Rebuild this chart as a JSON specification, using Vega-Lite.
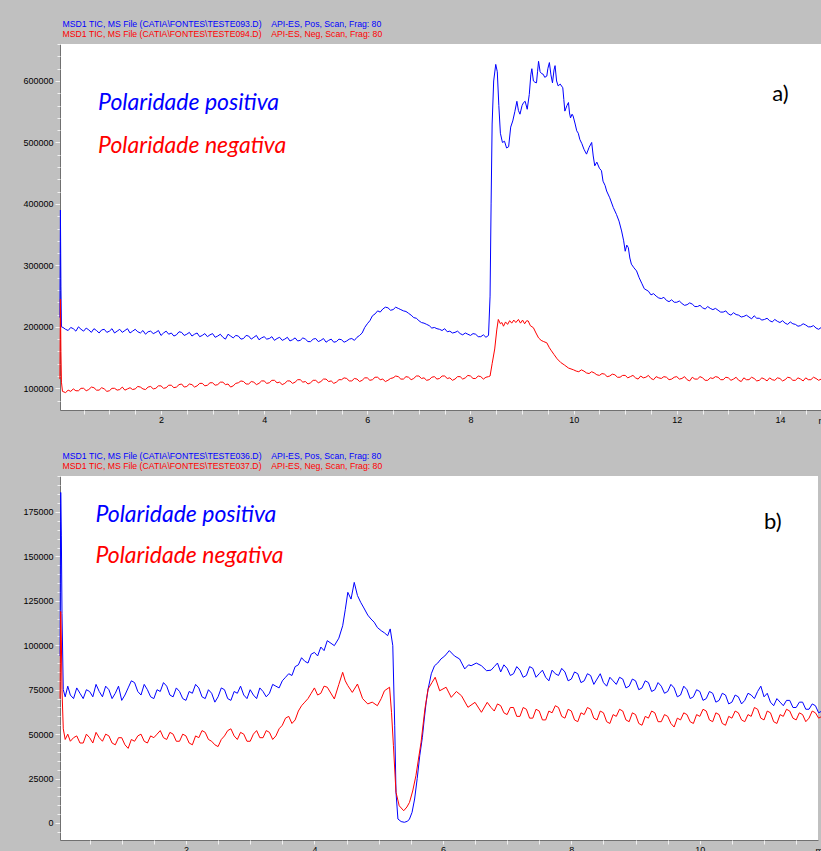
{
"$schema": "https://vega.github.io/schema/vega-lite/v6.json",
"background": "#c0c0c0",
"padding": {"left": 22, "top": 19, "right": 0, "bottom": 0},
"autosize": {"type": "pad"},
"spacing": 26,
"config": {
  "view": {"fill": "#ffffff", "stroke": null},
  "axis": {"labelFont": "Liberation Sans", "labelFontSize": 9, "labelColor": "#000000", "domainColor": "#707070", "tickColor": "#f2f2f2", "tickSize": 4, "labelPadding": 2, "grid": false, "titleFont": "Liberation Sans", "titleFontSize": 9, "titleFontWeight": "normal", "titleColor": "#000000"},
  "title": {"anchor": "start", "frame": "group", "font": "Liberation Sans", "fontSize": 8.7, "fontWeight": "normal", "color": "#0000ff", "subtitleFont": "Liberation Sans", "subtitleFontSize": 8.7, "subtitleColor": "#ff0000", "subtitlePadding": 2, "offset": 4.5, "dx": 2.5},
  "line": {"strokeWidth": 1, "clip": true}
},
"datasets": {
"a_pos": [{"x":0.04,"y":215000},{"x":0.05,"y":390000},{"x":0.06,"y":265000},{"x":0.07,"y":200000},{"x":0.1,"y":199000},{"x":0.15,"y":196000},{"x":0.2,"y":194000},{"x":0.25,"y":199000},{"x":0.3,"y":197000},{"x":0.35,"y":193000},{"x":0.4,"y":200000},{"x":0.45,"y":196000},{"x":0.5,"y":193000},{"x":0.55,"y":198000},{"x":0.6,"y":195000},{"x":0.65,"y":191000},{"x":0.7,"y":197000},{"x":0.75,"y":194000},{"x":0.8,"y":190000},{"x":0.85,"y":195000},{"x":0.9,"y":196000},{"x":0.95,"y":191000},{"x":1.0,"y":193000},{"x":1.05,"y":197000},{"x":1.1,"y":190000},{"x":1.15,"y":193000},{"x":1.2,"y":196000},{"x":1.25,"y":191000},{"x":1.3,"y":194000},{"x":1.35,"y":197000},{"x":1.4,"y":190000},{"x":1.45,"y":193000},{"x":1.5,"y":196000},{"x":1.55,"y":192000},{"x":1.6,"y":190000},{"x":1.65,"y":194000},{"x":1.7,"y":188000},{"x":1.75,"y":192000},{"x":1.8,"y":193000},{"x":1.85,"y":189000},{"x":1.9,"y":191000},{"x":1.95,"y":194000},{"x":2.0,"y":186000},{"x":2.05,"y":190000},{"x":2.1,"y":193000},{"x":2.15,"y":188000},{"x":2.2,"y":190000},{"x":2.25,"y":185000},{"x":2.3,"y":187000},{"x":2.35,"y":192000},{"x":2.4,"y":191000},{"x":2.45,"y":186000},{"x":2.5,"y":188000},{"x":2.55,"y":191000},{"x":2.6,"y":185000},{"x":2.65,"y":188000},{"x":2.7,"y":190000},{"x":2.75,"y":184000},{"x":2.8,"y":186000},{"x":2.85,"y":189000},{"x":2.9,"y":184000},{"x":2.95,"y":187000},{"x":3.0,"y":189000},{"x":3.05,"y":183000},{"x":3.1,"y":185000},{"x":3.15,"y":188000},{"x":3.2,"y":183000},{"x":3.25,"y":180000},{"x":3.3,"y":188000},{"x":3.35,"y":185000},{"x":3.4,"y":182000},{"x":3.45,"y":186000},{"x":3.5,"y":185000},{"x":3.55,"y":180000},{"x":3.6,"y":181000},{"x":3.65,"y":186000},{"x":3.7,"y":185000},{"x":3.75,"y":180000},{"x":3.8,"y":183000},{"x":3.85,"y":186000},{"x":3.9,"y":179000},{"x":3.95,"y":182000},{"x":4.0,"y":184000},{"x":4.05,"y":180000},{"x":4.1,"y":181000},{"x":4.15,"y":184000},{"x":4.2,"y":178000},{"x":4.25,"y":181000},{"x":4.3,"y":183000},{"x":4.35,"y":178000},{"x":4.4,"y":180000},{"x":4.45,"y":183000},{"x":4.5,"y":177000},{"x":4.55,"y":179000},{"x":4.6,"y":182000},{"x":4.65,"y":177000},{"x":4.7,"y":178000},{"x":4.75,"y":182000},{"x":4.8,"y":180000},{"x":4.85,"y":176000},{"x":4.9,"y":176000},{"x":4.95,"y":180000},{"x":5.0,"y":181000},{"x":5.05,"y":176000},{"x":5.1,"y":178000},{"x":5.15,"y":181000},{"x":5.2,"y":175000},{"x":5.25,"y":178000},{"x":5.3,"y":180000},{"x":5.35,"y":175000},{"x":5.4,"y":176000},{"x":5.45,"y":180000},{"x":5.5,"y":179000},{"x":5.55,"y":175000},{"x":5.6,"y":177000},{"x":5.65,"y":180000},{"x":5.7,"y":181000},{"x":5.75,"y":178000},{"x":5.8,"y":183000},{"x":5.85,"y":186000},{"x":5.9,"y":190000},{"x":5.95,"y":199000},{"x":6.0,"y":205000},{"x":6.05,"y":210000},{"x":6.1,"y":218000},{"x":6.15,"y":221000},{"x":6.2,"y":226000},{"x":6.25,"y":224000},{"x":6.3,"y":229000},{"x":6.35,"y":232000},{"x":6.4,"y":231000},{"x":6.45,"y":227000},{"x":6.5,"y":228000},{"x":6.55,"y":232000},{"x":6.6,"y":230000},{"x":6.65,"y":228000},{"x":6.7,"y":226000},{"x":6.75,"y":225000},{"x":6.8,"y":222000},{"x":6.85,"y":219000},{"x":6.9,"y":215000},{"x":6.95,"y":214000},{"x":7.0,"y":210000},{"x":7.05,"y":207000},{"x":7.1,"y":206000},{"x":7.15,"y":204000},{"x":7.2,"y":202000},{"x":7.25,"y":198000},{"x":7.3,"y":199000},{"x":7.35,"y":197000},{"x":7.4,"y":196000},{"x":7.45,"y":194000},{"x":7.5,"y":197000},{"x":7.55,"y":192000},{"x":7.6,"y":193000},{"x":7.65,"y":190000},{"x":7.7,"y":191000},{"x":7.75,"y":193000},{"x":7.8,"y":189000},{"x":7.85,"y":187000},{"x":7.9,"y":190000},{"x":7.95,"y":188000},{"x":8.0,"y":186000},{"x":8.05,"y":189000},{"x":8.1,"y":188000},{"x":8.15,"y":184000},{"x":8.2,"y":184000},{"x":8.25,"y":187000},{"x":8.3,"y":183000},{"x":8.35,"y":186000},{"x":8.38,"y":250000},{"x":8.40,"y":400000},{"x":8.42,"y":530000},{"x":8.45,"y":600000},{"x":8.49,"y":627000},{"x":8.52,"y":615000},{"x":8.55,"y":560000},{"x":8.58,"y":515000},{"x":8.62,"y":500000},{"x":8.66,"y":502000},{"x":8.70,"y":491000},{"x":8.74,"y":493000},{"x":8.78,"y":525000},{"x":8.82,"y":535000},{"x":8.86,"y":550000},{"x":8.90,"y":567000},{"x":8.93,"y":552000},{"x":8.96,"y":546000},{"x":9.00,"y":560000},{"x":9.03,"y":565000},{"x":9.06,"y":567000},{"x":9.10,"y":554000},{"x":9.14,"y":578000},{"x":9.17,"y":610000},{"x":9.19,"y":620000},{"x":9.22,"y":600000},{"x":9.25,"y":598000},{"x":9.28,"y":597000},{"x":9.30,"y":615000},{"x":9.32,"y":632000},{"x":9.35,"y":615000},{"x":9.38,"y":612000},{"x":9.41,"y":611000},{"x":9.44,"y":606000},{"x":9.48,"y":608000},{"x":9.50,"y":620000},{"x":9.53,"y":630000},{"x":9.56,"y":610000},{"x":9.59,"y":597000},{"x":9.62,"y":618000},{"x":9.64,"y":625000},{"x":9.67,"y":600000},{"x":9.70,"y":592000},{"x":9.74,"y":595000},{"x":9.79,"y":589000},{"x":9.81,"y":570000},{"x":9.83,"y":551000},{"x":9.87,"y":560000},{"x":9.90,"y":565000},{"x":9.92,"y":548000},{"x":9.94,"y":540000},{"x":9.97,"y":546000},{"x":9.99,"y":543000},{"x":10.03,"y":530000},{"x":10.06,"y":519000},{"x":10.09,"y":515000},{"x":10.12,"y":505000},{"x":10.16,"y":498000},{"x":10.20,"y":489000},{"x":10.25,"y":481000},{"x":10.30,"y":492000},{"x":10.35,"y":500000},{"x":10.38,"y":478000},{"x":10.41,"y":462000},{"x":10.45,"y":468000},{"x":10.50,"y":458000},{"x":10.54,"y":454000},{"x":10.57,"y":437000},{"x":10.61,"y":430000},{"x":10.64,"y":421000},{"x":10.70,"y":410000},{"x":10.77,"y":394000},{"x":10.83,"y":383000},{"x":10.88,"y":372000},{"x":10.93,"y":356000},{"x":10.97,"y":340000},{"x":11.00,"y":323000},{"x":11.03,"y":333000},{"x":11.06,"y":329000},{"x":11.09,"y":312000},{"x":11.12,"y":302000},{"x":11.17,"y":296000},{"x":11.22,"y":291000},{"x":11.27,"y":280000},{"x":11.32,"y":271000},{"x":11.37,"y":262000},{"x":11.45,"y":258000},{"x":11.5,"y":252000},{"x":11.55,"y":254000},{"x":11.6,"y":250000},{"x":11.65,"y":247000},{"x":11.7,"y":246000},{"x":11.75,"y":248000},{"x":11.8,"y":243000},{"x":11.85,"y":241000},{"x":11.9,"y":244000},{"x":11.95,"y":240000},{"x":12.0,"y":240000},{"x":12.05,"y":242000},{"x":12.1,"y":238000},{"x":12.15,"y":235000},{"x":12.2,"y":236000},{"x":12.25,"y":239000},{"x":12.3,"y":237000},{"x":12.35,"y":233000},{"x":12.4,"y":233000},{"x":12.45,"y":235000},{"x":12.5,"y":231000},{"x":12.55,"y":229000},{"x":12.6,"y":233000},{"x":12.65,"y":230000},{"x":12.7,"y":228000},{"x":12.75,"y":230000},{"x":12.8,"y":227000},{"x":12.85,"y":224000},{"x":12.9,"y":224000},{"x":12.95,"y":226000},{"x":13.0,"y":221000},{"x":13.05,"y":219000},{"x":13.1,"y":223000},{"x":13.15,"y":220000},{"x":13.2,"y":219000},{"x":13.25,"y":216000},{"x":13.3,"y":217000},{"x":13.35,"y":219000},{"x":13.4,"y":216000},{"x":13.45,"y":213000},{"x":13.5,"y":218000},{"x":13.55,"y":214000},{"x":13.6,"y":214000},{"x":13.65,"y":211000},{"x":13.7,"y":212000},{"x":13.75,"y":214000},{"x":13.8,"y":210000},{"x":13.85,"y":208000},{"x":13.9,"y":212000},{"x":13.95,"y":209000},{"x":14.0,"y":207000},{"x":14.05,"y":210000},{"x":14.1,"y":206000},{"x":14.15,"y":204000},{"x":14.2,"y":208000},{"x":14.25,"y":205000},{"x":14.3,"y":204000},{"x":14.35,"y":201000},{"x":14.4,"y":202000},{"x":14.45,"y":205000},{"x":14.5,"y":203000},{"x":14.55,"y":200000},{"x":14.6,"y":200000},{"x":14.65,"y":202000},{"x":14.7,"y":198000},{"x":14.75,"y":196000},{"x":14.8,"y":199000}],
"a_neg": [{"x":0.04,"y":115000},{"x":0.05,"y":245000},{"x":0.06,"y":160000},{"x":0.07,"y":110000},{"x":0.09,"y":95000},{"x":0.15,"y":93000},{"x":0.2,"y":97000},{"x":0.25,"y":95000},{"x":0.3,"y":99000},{"x":0.35,"y":96000},{"x":0.4,"y":96000},{"x":0.45,"y":100000},{"x":0.5,"y":100000},{"x":0.55,"y":96000},{"x":0.6,"y":98000},{"x":0.65,"y":102000},{"x":0.7,"y":101000},{"x":0.75,"y":97000},{"x":0.8,"y":97000},{"x":0.85,"y":101000},{"x":0.9,"y":99000},{"x":0.95,"y":95000},{"x":1.0,"y":96000},{"x":1.05,"y":100000},{"x":1.1,"y":100000},{"x":1.15,"y":97000},{"x":1.2,"y":98000},{"x":1.25,"y":102000},{"x":1.3,"y":97000},{"x":1.35,"y":99000},{"x":1.4,"y":101000},{"x":1.45,"y":98000},{"x":1.5,"y":99000},{"x":1.55,"y":103000},{"x":1.6,"y":102000},{"x":1.65,"y":99000},{"x":1.7,"y":98000},{"x":1.75,"y":102000},{"x":1.8,"y":103000},{"x":1.85,"y":99000},{"x":1.9,"y":100000},{"x":1.95,"y":104000},{"x":2.0,"y":104000},{"x":2.05,"y":100000},{"x":2.1,"y":101000},{"x":2.15,"y":105000},{"x":2.2,"y":105000},{"x":2.25,"y":101000},{"x":2.3,"y":102000},{"x":2.35,"y":106000},{"x":2.4,"y":107000},{"x":2.45,"y":102000},{"x":2.5,"y":103000},{"x":2.55,"y":107000},{"x":2.6,"y":106000},{"x":2.65,"y":102000},{"x":2.7,"y":104000},{"x":2.75,"y":108000},{"x":2.8,"y":108000},{"x":2.85,"y":104000},{"x":2.9,"y":105000},{"x":2.95,"y":109000},{"x":3.0,"y":109000},{"x":3.05,"y":105000},{"x":3.1,"y":106000},{"x":3.15,"y":110000},{"x":3.2,"y":110000},{"x":3.25,"y":106000},{"x":3.3,"y":107000},{"x":3.35,"y":102000},{"x":3.4,"y":104000},{"x":3.45,"y":108000},{"x":3.5,"y":109000},{"x":3.55,"y":112000},{"x":3.6,"y":111000},{"x":3.65,"y":107000},{"x":3.7,"y":107000},{"x":3.75,"y":111000},{"x":3.8,"y":110000},{"x":3.85,"y":106000},{"x":3.9,"y":108000},{"x":3.95,"y":112000},{"x":4.0,"y":112000},{"x":4.05,"y":108000},{"x":4.1,"y":109000},{"x":4.15,"y":113000},{"x":4.2,"y":113000},{"x":4.25,"y":109000},{"x":4.3,"y":110000},{"x":4.35,"y":106000},{"x":4.4,"y":108000},{"x":4.45,"y":112000},{"x":4.5,"y":112000},{"x":4.55,"y":108000},{"x":4.6,"y":110000},{"x":4.65,"y":114000},{"x":4.7,"y":114000},{"x":4.75,"y":110000},{"x":4.8,"y":111000},{"x":4.85,"y":107000},{"x":4.9,"y":109000},{"x":4.95,"y":113000},{"x":5.0,"y":113000},{"x":5.05,"y":109000},{"x":5.1,"y":111000},{"x":5.15,"y":115000},{"x":5.2,"y":115000},{"x":5.25,"y":111000},{"x":5.3,"y":112000},{"x":5.35,"y":108000},{"x":5.4,"y":110000},{"x":5.45,"y":114000},{"x":5.5,"y":114000},{"x":5.55,"y":117000},{"x":5.6,"y":116000},{"x":5.65,"y":112000},{"x":5.7,"y":112000},{"x":5.75,"y":116000},{"x":5.8,"y":115000},{"x":5.85,"y":111000},{"x":5.9,"y":113000},{"x":5.95,"y":117000},{"x":6.0,"y":117000},{"x":6.05,"y":113000},{"x":6.1,"y":114000},{"x":6.15,"y":118000},{"x":6.2,"y":118000},{"x":6.25,"y":114000},{"x":6.3,"y":115000},{"x":6.35,"y":111000},{"x":6.4,"y":113000},{"x":6.45,"y":116000},{"x":6.5,"y":117000},{"x":6.55,"y":120000},{"x":6.6,"y":119000},{"x":6.65,"y":115000},{"x":6.7,"y":115000},{"x":6.75,"y":119000},{"x":6.8,"y":118000},{"x":6.85,"y":114000},{"x":6.9,"y":116000},{"x":6.95,"y":120000},{"x":7.0,"y":120000},{"x":7.05,"y":116000},{"x":7.1,"y":117000},{"x":7.15,"y":113000},{"x":7.2,"y":114000},{"x":7.25,"y":118000},{"x":7.3,"y":119000},{"x":7.35,"y":115000},{"x":7.4,"y":116000},{"x":7.45,"y":120000},{"x":7.5,"y":120000},{"x":7.55,"y":116000},{"x":7.6,"y":117000},{"x":7.65,"y":113000},{"x":7.7,"y":115000},{"x":7.75,"y":119000},{"x":7.8,"y":119000},{"x":7.85,"y":115000},{"x":7.9,"y":117000},{"x":7.95,"y":121000},{"x":8.0,"y":120000},{"x":8.05,"y":116000},{"x":8.1,"y":116000},{"x":8.15,"y":120000},{"x":8.2,"y":119000},{"x":8.25,"y":115000},{"x":8.3,"y":118000},{"x":8.35,"y":119000},{"x":8.38,"y":120000},{"x":8.42,"y":140000},{"x":8.47,"y":164000},{"x":8.51,"y":195000},{"x":8.54,"y":212000},{"x":8.58,"y":205000},{"x":8.61,"y":207000},{"x":8.64,"y":201000},{"x":8.68,"y":208000},{"x":8.72,"y":204000},{"x":8.76,"y":210000},{"x":8.80,"y":206000},{"x":8.84,"y":211000},{"x":8.88,"y":207000},{"x":8.93,"y":212000},{"x":8.97,"y":206000},{"x":9.01,"y":211000},{"x":9.05,"y":205000},{"x":9.09,"y":210000},{"x":9.12,"y":209500},{"x":9.16,"y":202000},{"x":9.22,"y":198600},{"x":9.27,"y":190000},{"x":9.32,"y":182000},{"x":9.37,"y":178000},{"x":9.42,"y":176000},{"x":9.48,"y":174000},{"x":9.53,"y":166000},{"x":9.57,"y":161000},{"x":9.62,"y":155000},{"x":9.68,"y":148000},{"x":9.75,"y":142000},{"x":9.82,"y":138000},{"x":9.9,"y":133000},{"x":10.0,"y":130000},{"x":10.05,"y":128000},{"x":10.1,"y":127000},{"x":10.15,"y":130000},{"x":10.2,"y":128000},{"x":10.25,"y":125000},{"x":10.3,"y":124000},{"x":10.35,"y":127000},{"x":10.4,"y":125000},{"x":10.45,"y":122000},{"x":10.5,"y":121000},{"x":10.55,"y":124000},{"x":10.6,"y":123000},{"x":10.65,"y":119000},{"x":10.7,"y":120000},{"x":10.75,"y":123000},{"x":10.8,"y":122000},{"x":10.85,"y":118000},{"x":10.9,"y":118000},{"x":10.95,"y":121000},{"x":11.0,"y":121000},{"x":11.05,"y":117000},{"x":11.1,"y":119000},{"x":11.15,"y":121000},{"x":11.2,"y":117000},{"x":11.25,"y":115000},{"x":11.3,"y":120000},{"x":11.35,"y":117000},{"x":11.4,"y":118000},{"x":11.45,"y":121000},{"x":11.5,"y":116000},{"x":11.55,"y":114000},{"x":11.6,"y":119000},{"x":11.65,"y":117000},{"x":11.7,"y":116000},{"x":11.75,"y":119000},{"x":11.8,"y":118000},{"x":11.85,"y":114000},{"x":11.9,"y":115000},{"x":11.95,"y":118000},{"x":12.0,"y":119000},{"x":12.05,"y":115000},{"x":12.1,"y":116000},{"x":12.15,"y":119000},{"x":12.2,"y":114000},{"x":12.25,"y":112000},{"x":12.3,"y":118000},{"x":12.35,"y":115000},{"x":12.4,"y":115000},{"x":12.45,"y":119000},{"x":12.5,"y":117000},{"x":12.55,"y":113000},{"x":12.6,"y":113000},{"x":12.65,"y":117000},{"x":12.7,"y":116000},{"x":12.75,"y":119000},{"x":12.8,"y":118000},{"x":12.85,"y":114000},{"x":12.9,"y":114000},{"x":12.95,"y":118000},{"x":13.0,"y":117000},{"x":13.05,"y":113000},{"x":13.1,"y":115000},{"x":13.15,"y":118000},{"x":13.2,"y":113000},{"x":13.25,"y":111000},{"x":13.3,"y":117000},{"x":13.35,"y":114000},{"x":13.4,"y":114000},{"x":13.45,"y":118000},{"x":13.5,"y":116000},{"x":13.55,"y":112000},{"x":13.6,"y":113000},{"x":13.65,"y":117000},{"x":13.7,"y":115000},{"x":13.75,"y":112000},{"x":13.8,"y":117000},{"x":13.85,"y":114000},{"x":13.9,"y":113000},{"x":13.95,"y":117000},{"x":14.0,"y":116000},{"x":14.05,"y":112000},{"x":14.1,"y":114000},{"x":14.15,"y":118000},{"x":14.2,"y":117000},{"x":14.25,"y":113000},{"x":14.3,"y":113000},{"x":14.35,"y":117000},{"x":14.4,"y":115000},{"x":14.45,"y":112000},{"x":14.5,"y":117000},{"x":14.55,"y":114000},{"x":14.6,"y":114000},{"x":14.65,"y":118000},{"x":14.7,"y":116000},{"x":14.75,"y":113000},{"x":14.8,"y":115000}],
"b_pos": [{"x":0.04,"y":94000},{"x":0.05,"y":186000},{"x":0.06,"y":162000},{"x":0.07,"y":118000},{"x":0.09,"y":75000},{"x":0.12,"y":71000},{"x":0.16,"y":77000},{"x":0.2,"y":72000},{"x":0.25,"y":70000},{"x":0.3,"y":76000},{"x":0.35,"y":73000},{"x":0.4,"y":70000},{"x":0.45,"y":75000},{"x":0.5,"y":74000},{"x":0.55,"y":71000},{"x":0.6,"y":78000},{"x":0.65,"y":74000},{"x":0.7,"y":71000},{"x":0.75,"y":77000},{"x":0.8,"y":75000},{"x":0.85,"y":70000},{"x":0.9,"y":73000},{"x":0.95,"y":77000},{"x":1.0,"y":69000},{"x":1.05,"y":72000},{"x":1.1,"y":76000},{"x":1.15,"y":80000},{"x":1.2,"y":79000},{"x":1.25,"y":74000},{"x":1.3,"y":72000},{"x":1.35,"y":78000},{"x":1.4,"y":75000},{"x":1.45,"y":71000},{"x":1.5,"y":70000},{"x":1.55,"y":75000},{"x":1.6,"y":74000},{"x":1.65,"y":79000},{"x":1.7,"y":77000},{"x":1.75,"y":72000},{"x":1.8,"y":71000},{"x":1.85,"y":76000},{"x":1.9,"y":74000},{"x":1.95,"y":70000},{"x":2.0,"y":69000},{"x":2.05,"y":74000},{"x":2.1,"y":73000},{"x":2.15,"y":78000},{"x":2.2,"y":76000},{"x":2.25,"y":71000},{"x":2.3,"y":70000},{"x":2.35,"y":75000},{"x":2.4,"y":73000},{"x":2.45,"y":68000},{"x":2.5,"y":71000},{"x":2.55,"y":76000},{"x":2.6,"y":75000},{"x":2.65,"y":70000},{"x":2.7,"y":69000},{"x":2.75,"y":74000},{"x":2.8,"y":73000},{"x":2.85,"y":77000},{"x":2.9,"y":72000},{"x":2.95,"y":70000},{"x":3.0,"y":75000},{"x":3.05,"y":72000},{"x":3.1,"y":70000},{"x":3.15,"y":76000},{"x":3.2,"y":74000},{"x":3.25,"y":71000},{"x":3.3,"y":73000},{"x":3.35,"y":78000},{"x":3.4,"y":77000},{"x":3.45,"y":76000},{"x":3.5,"y":80000},{"x":3.55,"y":82000},{"x":3.6,"y":84000},{"x":3.65,"y":83000},{"x":3.7,"y":88000},{"x":3.75,"y":89000},{"x":3.8,"y":93000},{"x":3.85,"y":91000},{"x":3.9,"y":90000},{"x":3.95,"y":95000},{"x":4.0,"y":96000},{"x":4.05,"y":94000},{"x":4.1,"y":99000},{"x":4.15,"y":97000},{"x":4.2,"y":102600},{"x":4.31,"y":99800},{"x":4.38,"y":104000},{"x":4.44,"y":111000},{"x":4.48,"y":120000},{"x":4.52,"y":129800},{"x":4.57,"y":126000},{"x":4.62,"y":135400},{"x":4.67,"y":128000},{"x":4.72,"y":124200},{"x":4.77,"y":121000},{"x":4.83,"y":117000},{"x":4.88,"y":114800},{"x":4.93,"y":113000},{"x":4.98,"y":110000},{"x":5.04,"y":108200},{"x":5.09,"y":107000},{"x":5.14,"y":105400},{"x":5.18,"y":109200},{"x":5.22,"y":99800},{"x":5.25,"y":54700},{"x":5.27,"y":17300},{"x":5.30,"y":2250},{"x":5.35,"y":800},{"x":5.40,"y":400},{"x":5.45,"y":1000},{"x":5.48,"y":2250},{"x":5.52,"y":6000},{"x":5.56,"y":13500},{"x":5.60,"y":25000},{"x":5.64,"y":37900},{"x":5.68,"y":48000},{"x":5.71,"y":58500},{"x":5.74,"y":68000},{"x":5.77,"y":75400},{"x":5.82,"y":84000},{"x":5.87,"y":88500},{"x":5.92,"y":90000},{"x":5.97,"y":92300},{"x":6.03,"y":94000},{"x":6.10,"y":97000},{"x":6.18,"y":94000},{"x":6.26,"y":92300},{"x":6.34,"y":86700},{"x":6.40,"y":89000},{"x":6.44,"y":88500},{"x":6.52,"y":90000},{"x":6.60,"y":88500},{"x":6.68,"y":85700},{"x":6.75,"y":86000},{"x":6.8,"y":88000},{"x":6.85,"y":90000},{"x":6.9,"y":85000},{"x":6.95,"y":89000},{"x":7.0,"y":87000},{"x":7.05,"y":83000},{"x":7.1,"y":84000},{"x":7.15,"y":88000},{"x":7.2,"y":86000},{"x":7.25,"y":82000},{"x":7.3,"y":83000},{"x":7.35,"y":88000},{"x":7.4,"y":87000},{"x":7.45,"y":82000},{"x":7.5,"y":84000},{"x":7.55,"y":86000},{"x":7.6,"y":82000},{"x":7.65,"y":80000},{"x":7.7,"y":86000},{"x":7.75,"y":84000},{"x":7.8,"y":83000},{"x":7.85,"y":87000},{"x":7.9,"y":85000},{"x":7.95,"y":80000},{"x":8.0,"y":81000},{"x":8.05,"y":85000},{"x":8.1,"y":84000},{"x":8.15,"y":79000},{"x":8.2,"y":80000},{"x":8.25,"y":84000},{"x":8.3,"y":83000},{"x":8.35,"y":78000},{"x":8.4,"y":81000},{"x":8.45,"y":84000},{"x":8.5,"y":79000},{"x":8.55,"y":77000},{"x":8.6,"y":82000},{"x":8.65,"y":80000},{"x":8.7,"y":78000},{"x":8.75,"y":82000},{"x":8.8,"y":81000},{"x":8.85,"y":76000},{"x":8.9,"y":77000},{"x":8.95,"y":81000},{"x":9.0,"y":80000},{"x":9.05,"y":75000},{"x":9.1,"y":76000},{"x":9.15,"y":80000},{"x":9.2,"y":79000},{"x":9.25,"y":74000},{"x":9.3,"y":75000},{"x":9.35,"y":79000},{"x":9.4,"y":77000},{"x":9.45,"y":73000},{"x":9.5,"y":74000},{"x":9.55,"y":78000},{"x":9.6,"y":76000},{"x":9.65,"y":71000},{"x":9.7,"y":72000},{"x":9.75,"y":77000},{"x":9.8,"y":75000},{"x":9.85,"y":70000},{"x":9.9,"y":71000},{"x":9.95,"y":75000},{"x":10.0,"y":74000},{"x":10.05,"y":69000},{"x":10.1,"y":70000},{"x":10.15,"y":74000},{"x":10.2,"y":73000},{"x":10.25,"y":68000},{"x":10.3,"y":69000},{"x":10.35,"y":73000},{"x":10.4,"y":72000},{"x":10.45,"y":67000},{"x":10.5,"y":68000},{"x":10.55,"y":72000},{"x":10.6,"y":71000},{"x":10.65,"y":67000},{"x":10.7,"y":69000},{"x":10.75,"y":73000},{"x":10.8,"y":72000},{"x":10.85,"y":70000},{"x":10.9,"y":74000},{"x":10.95,"y":77000},{"x":11.0,"y":71000},{"x":11.05,"y":73000},{"x":11.1,"y":68000},{"x":11.15,"y":66000},{"x":11.2,"y":70000},{"x":11.25,"y":68000},{"x":11.3,"y":66000},{"x":11.35,"y":69000},{"x":11.4,"y":69000},{"x":11.45,"y":65000},{"x":11.5,"y":65000},{"x":11.55,"y":68000},{"x":11.6,"y":68000},{"x":11.65,"y":64000},{"x":11.7,"y":64000},{"x":11.75,"y":67000},{"x":11.8,"y":66000},{"x":11.85,"y":62000},{"x":11.9,"y":63000}],
"b_neg": [{"x":0.04,"y":70000},{"x":0.05,"y":119000},{"x":0.06,"y":103000},{"x":0.07,"y":75000},{"x":0.09,"y":53000},{"x":0.12,"y":47000},{"x":0.16,"y":50000},{"x":0.2,"y":46000},{"x":0.25,"y":48000},{"x":0.3,"y":49000},{"x":0.35,"y":45000},{"x":0.4,"y":45000},{"x":0.45,"y":50000},{"x":0.5,"y":48000},{"x":0.55,"y":45000},{"x":0.6,"y":51000},{"x":0.65,"y":48000},{"x":0.7,"y":46000},{"x":0.75,"y":50000},{"x":0.8,"y":49000},{"x":0.85,"y":45000},{"x":0.9,"y":44000},{"x":0.95,"y":48000},{"x":1.0,"y":48000},{"x":1.05,"y":44000},{"x":1.1,"y":42000},{"x":1.15,"y":47000},{"x":1.2,"y":46000},{"x":1.25,"y":49000},{"x":1.3,"y":50000},{"x":1.35,"y":46000},{"x":1.4,"y":45000},{"x":1.45,"y":49000},{"x":1.5,"y":48000},{"x":1.55,"y":50000},{"x":1.6,"y":52000},{"x":1.65,"y":48000},{"x":1.7,"y":47000},{"x":1.75,"y":51000},{"x":1.8,"y":50000},{"x":1.85,"y":46000},{"x":1.9,"y":46000},{"x":1.95,"y":50000},{"x":2.0,"y":49000},{"x":2.05,"y":45000},{"x":2.1,"y":44000},{"x":2.15,"y":49000},{"x":2.2,"y":48000},{"x":2.25,"y":52000},{"x":2.3,"y":51000},{"x":2.35,"y":47000},{"x":2.4,"y":46000},{"x":2.45,"y":44000},{"x":2.5,"y":43000},{"x":2.55,"y":47000},{"x":2.6,"y":49000},{"x":2.65,"y":52000},{"x":2.7,"y":53000},{"x":2.75,"y":49000},{"x":2.8,"y":47000},{"x":2.85,"y":51000},{"x":2.9,"y":50000},{"x":2.95,"y":46000},{"x":3.0,"y":46000},{"x":3.05,"y":50000},{"x":3.1,"y":52000},{"x":3.15,"y":48000},{"x":3.2,"y":48000},{"x":3.25,"y":52000},{"x":3.3,"y":51000},{"x":3.35,"y":47000},{"x":3.4,"y":49000},{"x":3.45,"y":53000},{"x":3.5,"y":55000},{"x":3.55,"y":59000},{"x":3.6,"y":60000},{"x":3.65,"y":56000},{"x":3.7,"y":58000},{"x":3.75,"y":63000},{"x":3.8,"y":66000},{"x":3.85,"y":68000},{"x":3.9,"y":70000},{"x":3.95,"y":73000},{"x":4.0,"y":76000},{"x":4.05,"y":72000},{"x":4.1,"y":73000},{"x":4.15,"y":77000},{"x":4.2,"y":76400},{"x":4.31,"y":69800},{"x":4.38,"y":78000},{"x":4.44,"y":84800},{"x":4.48,"y":80000},{"x":4.52,"y":77300},{"x":4.59,"y":73500},{"x":4.67,"y":78200},{"x":4.75,"y":70000},{"x":4.83,"y":67000},{"x":4.90,"y":68000},{"x":4.98,"y":66000},{"x":5.04,"y":70000},{"x":5.09,"y":74400},{"x":5.17,"y":76400},{"x":5.20,"y":62300},{"x":5.23,"y":43500},{"x":5.27,"y":17300},{"x":5.32,"y":9700},{"x":5.39,"y":6900},{"x":5.44,"y":9000},{"x":5.48,"y":11600},{"x":5.53,"y":18000},{"x":5.58,"y":26600},{"x":5.62,"y":36000},{"x":5.66,"y":45400},{"x":5.72,"y":64100},{"x":5.77,"y":75400},{"x":5.83,"y":79000},{"x":5.88,"y":82000},{"x":5.95,"y":74400},{"x":6.05,"y":76400},{"x":6.13,"y":70700},{"x":6.21,"y":74000},{"x":6.29,"y":71600},{"x":6.39,"y":65100},{"x":6.50,"y":67900},{"x":6.60,"y":62300},{"x":6.69,"y":67900},{"x":6.75,"y":65000},{"x":6.8,"y":63000},{"x":6.85,"y":67000},{"x":6.9,"y":66000},{"x":6.95,"y":62000},{"x":7.0,"y":61000},{"x":7.05,"y":65000},{"x":7.1,"y":65000},{"x":7.15,"y":60000},{"x":7.2,"y":60000},{"x":7.25,"y":65000},{"x":7.3,"y":64000},{"x":7.35,"y":59000},{"x":7.4,"y":59000},{"x":7.45,"y":64000},{"x":7.5,"y":63000},{"x":7.55,"y":58000},{"x":7.6,"y":58000},{"x":7.65,"y":63000},{"x":7.7,"y":62000},{"x":7.75,"y":66000},{"x":7.8,"y":65000},{"x":7.85,"y":60000},{"x":7.9,"y":59000},{"x":7.95,"y":64000},{"x":8.0,"y":63000},{"x":8.05,"y":58000},{"x":8.1,"y":57000},{"x":8.15,"y":62000},{"x":8.2,"y":61000},{"x":8.25,"y":65000},{"x":8.3,"y":64000},{"x":8.35,"y":59000},{"x":8.4,"y":58000},{"x":8.45,"y":63000},{"x":8.5,"y":62000},{"x":8.55,"y":57000},{"x":8.6,"y":56000},{"x":8.65,"y":61000},{"x":8.7,"y":60000},{"x":8.75,"y":64000},{"x":8.8,"y":63000},{"x":8.85,"y":58000},{"x":8.9,"y":57000},{"x":8.95,"y":62000},{"x":9.0,"y":61000},{"x":9.05,"y":56000},{"x":9.1,"y":55000},{"x":9.15,"y":60000},{"x":9.2,"y":59000},{"x":9.25,"y":63000},{"x":9.3,"y":62000},{"x":9.35,"y":57000},{"x":9.4,"y":57000},{"x":9.45,"y":61000},{"x":9.5,"y":60000},{"x":9.55,"y":56000},{"x":9.6,"y":54000},{"x":9.65,"y":59000},{"x":9.7,"y":58000},{"x":9.75,"y":62000},{"x":9.8,"y":61000},{"x":9.85,"y":57000},{"x":9.9,"y":56000},{"x":9.95,"y":61000},{"x":10.0,"y":60000},{"x":10.05,"y":64000},{"x":10.1,"y":63000},{"x":10.15,"y":58000},{"x":10.2,"y":57000},{"x":10.25,"y":62000},{"x":10.3,"y":61000},{"x":10.35,"y":56000},{"x":10.4,"y":55000},{"x":10.45,"y":60000},{"x":10.5,"y":59000},{"x":10.55,"y":63000},{"x":10.6,"y":62000},{"x":10.65,"y":58000},{"x":10.7,"y":57000},{"x":10.75,"y":61000},{"x":10.8,"y":60000},{"x":10.85,"y":65000},{"x":10.9,"y":64000},{"x":10.95,"y":59000},{"x":11.0,"y":58000},{"x":11.05,"y":63000},{"x":11.1,"y":62000},{"x":11.15,"y":57000},{"x":11.2,"y":56000},{"x":11.25,"y":61000},{"x":11.3,"y":60000},{"x":11.35,"y":64000},{"x":11.4,"y":63000},{"x":11.45,"y":59000},{"x":11.5,"y":58000},{"x":11.55,"y":62000},{"x":11.6,"y":61000},{"x":11.65,"y":57000},{"x":11.7,"y":59000},{"x":11.75,"y":63000},{"x":11.8,"y":62000},{"x":11.85,"y":59000},{"x":11.9,"y":60000}]
},
"vconcat": [
{
  "width": 761, "height": 366,
  "title": {"text": "MSD1 TIC, MS File (CATIA\\FONTES\\TESTE093.D)\u00a0\u00a0\u00a0\u00a0API-ES, Pos, Scan, Frag: 80", "subtitle": "MSD1 TIC, MS File (CATIA\\FONTES\\TESTE094.D)\u00a0\u00a0\u00a0\u00a0API-ES, Neg, Scan, Frag: 80"},
  "resolve": {"axis": {"x": "independent", "y": "independent"}},
  "layer": [
    {"data": {"name": "a_pos"}, "mark": {"type": "line", "color": "#0000ff"},
     "encoding": {
       "x": {"field": "x", "type": "quantitative", "scale": {"domain": [0.042, 14.796], "nice": false, "zero": false},
         "axis": {"orient": "bottom", "values": [2,4,6,8,10,12,14], "format": "d", "title": "min", "titleAngle": 0, "titleX": 758, "titleY": 10, "titleAlign": "left", "titleBaseline": "middle", "labelPadding": 1}},
       "y": {"field": "y", "type": "quantitative", "scale": {"domain": [64700, 660200], "nice": false, "zero": false},
         "axis": {"orient": "left", "values": [100000,200000,300000,400000,500000,600000], "format": "d", "title": null, "tickSize": 5}}}},
    {"data": {"name": "a_neg"}, "mark": {"type": "line", "color": "#ff0000"},
     "encoding": {
       "x": {"field": "x", "type": "quantitative", "scale": {"domain": [0.042, 14.796], "nice": false, "zero": false},
         "axis": {"orient": "bottom", "values": [0.5,1,1.5,2.5,3,3.5,4.5,5,5.5,6.5,7,7.5,8.5,9,9.5,10.5,11,11.5,12.5,13,13.5,14.5], "labels": false, "domain": false, "title": null}},
       "y": {"field": "y", "type": "quantitative", "scale": {"domain": [64700, 660200], "nice": false, "zero": false},
         "axis": {"orient": "left", "values": [80000,120000,140000,160000,180000,220000,240000,260000,280000,320000,340000,360000,380000,420000,440000,460000,480000,520000,540000,560000,580000,620000,640000,660000], "labels": false, "domain": false, "title": null, "tickSize": 3}}}},
    {"data": {"values": [{}]}, "mark": {"type": "text", "text": "Polaridade positiva", "font": "Lato", "fontStyle": "italic", "fontSize": 23, "color": "#0000ff", "align": "left", "baseline": "middle"}, "encoding": {"x": {"datum": 0.78, "type": "quantitative", "axis": null}, "y": {"datum": 564000, "type": "quantitative", "axis": null}}},
    {"data": {"values": [{}]}, "mark": {"type": "text", "text": "Polaridade negativa", "font": "Lato", "fontStyle": "italic", "fontSize": 23, "color": "#ff0000", "align": "left", "baseline": "middle"}, "encoding": {"x": {"datum": 0.78, "type": "quantitative", "axis": null}, "y": {"datum": 494000, "type": "quantitative", "axis": null}}},
    {"data": {"values": [{}]}, "mark": {"type": "text", "text": "a)", "font": "Lato", "fontSize": 22, "color": "#000000", "align": "left", "baseline": "middle"}, "encoding": {"x": {"datum": 13.85, "type": "quantitative", "axis": null}, "y": {"datum": 579000, "type": "quantitative", "axis": null}}}
  ]
},
{
  "width": 758, "height": 364,
  "title": {"text": "MSD1 TIC, MS File (CATIA\\FONTES\\TESTE036.D)\u00a0\u00a0\u00a0\u00a0API-ES, Pos, Scan, Frag: 80", "subtitle": "MSD1 TIC, MS File (CATIA\\FONTES\\TESTE037.D)\u00a0\u00a0\u00a0\u00a0API-ES, Neg, Scan, Frag: 80"},
  "resolve": {"axis": {"x": "independent", "y": "independent"}},
  "layer": [
    {"data": {"name": "b_pos"}, "mark": {"type": "line", "color": "#0000ff"},
     "encoding": {
       "x": {"field": "x", "type": "quantitative", "scale": {"domain": [0.039, 11.84], "nice": false, "zero": false},
         "axis": {"orient": "bottom", "values": [2,4,6,8,10], "format": "d", "title": "min", "titleAngle": 0, "titleX": 755, "titleY": 10, "titleAlign": "left", "titleBaseline": "middle", "labelPadding": 1}},
       "y": {"field": "y", "type": "quantitative", "scale": {"domain": [-9566, 195257], "nice": false, "zero": false},
         "axis": {"orient": "left", "values": [0,25000,50000,75000,100000,125000,150000,175000], "format": "d", "title": null, "tickSize": 5}}}},
    {"data": {"name": "b_neg"}, "mark": {"type": "line", "color": "#ff0000"},
     "encoding": {
       "x": {"field": "x", "type": "quantitative", "scale": {"domain": [0.039, 11.84], "nice": false, "zero": false},
         "axis": {"orient": "bottom", "values": [0.5,1,1.5,2.5,3,3.5,4.5,5,5.5,6.5,7,7.5,8.5,9,9.5,10.5,11,11.5], "labels": false, "domain": false, "title": null}},
       "y": {"field": "y", "type": "quantitative", "scale": {"domain": [-9566, 195257], "nice": false, "zero": false},
         "axis": {"orient": "left", "values": [-5000,5000,10000,15000,20000,30000,35000,40000,45000,55000,60000,65000,70000,80000,85000,90000,95000,105000,110000,115000,120000,130000,135000,140000,145000,155000,160000,165000,170000,180000,185000,190000,195000], "labels": false, "domain": false, "title": null, "tickSize": 3}}}},
    {"data": {"values": [{}]}, "mark": {"type": "text", "text": "Polaridade positiva", "font": "Lato", "fontStyle": "italic", "fontSize": 23, "color": "#0000ff", "align": "left", "baseline": "middle"}, "encoding": {"x": {"datum": 0.59, "type": "quantitative", "axis": null}, "y": {"datum": 173300, "type": "quantitative", "axis": null}}},
    {"data": {"values": [{}]}, "mark": {"type": "text", "text": "Polaridade negativa", "font": "Lato", "fontStyle": "italic", "fontSize": 23, "color": "#ff0000", "align": "left", "baseline": "middle"}, "encoding": {"x": {"datum": 0.59, "type": "quantitative", "axis": null}, "y": {"datum": 150200, "type": "quantitative", "axis": null}}},
    {"data": {"values": [{}]}, "mark": {"type": "text", "text": "b)", "font": "Lato", "fontSize": 22, "color": "#000000", "align": "left", "baseline": "middle"}, "encoding": {"x": {"datum": 11.0, "type": "quantitative", "axis": null}, "y": {"datum": 169400, "type": "quantitative", "axis": null}}}
  ]
}
]
}
